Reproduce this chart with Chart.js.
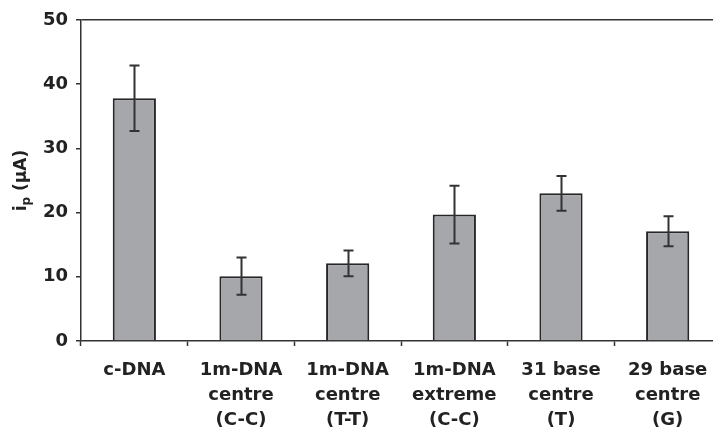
<!DOCTYPE html>
<html>
<head>
<meta charset="utf-8">
<script src="https://cdn.jsdelivr.net/npm/chart.js@4/dist/chart.umd.min.js"></script>
<style>
  html, body { margin: 0; padding: 0; background: #fff; }
  #wrap { width: 713px; height: 430px; overflow: hidden; position: relative; }
  canvas { display: block; }
</style>
</head>
<body>
<div id="wrap"><canvas id="c" width="722" height="430"></canvas></div>
<script>
// Peak current for each DNA target, with standard deviation
const categories = [
  ['c-DNA'],
  ['1m-DNA', 'centre', '(C-C)'],
  ['1m-DNA', 'centre', '(T-T)'],
  ['1m-DNA', 'extreme', '(C-C)'],
  ['31 base', 'centre', '(T)'],
  ['29 base', 'centre', '(G)']
];
const peakCurrent = [37.8, 10.1, 12.1, 19.7, 23.0, 17.1];
const errorSize   = [5.1, 2.9, 2.0, 4.5, 2.7, 2.35];
const yTicks = [0, 10, 20, 30, 40, 50];

const INK = '#222222';
const FONT = '"DejaVu Sans", "Liberation Sans", Arial, sans-serif';

// Vertical error bars with caps
const errorBars = {
  id: 'errorBars',
  afterDatasetsDraw(chart) {
    const ctx = chart.ctx;
    const meta = chart.getDatasetMeta(0);
    const y = chart.scales.y;
    ctx.save();
    ctx.strokeStyle = '#333333';
    ctx.lineWidth = 2;
    meta.data.forEach((bar, i) => {
      const x = Math.round(bar.x) + 0.5;
      const top = y.getPixelForValue(peakCurrent[i] + errorSize[i]);
      const bot = y.getPixelForValue(peakCurrent[i] - errorSize[i]);
      ctx.beginPath();
      ctx.moveTo(x, top); ctx.lineTo(x, bot);
      ctx.moveTo(x - 5, top); ctx.lineTo(x + 5, top);
      ctx.moveTo(x - 5, bot); ctx.lineTo(x + 5, bot);
      ctx.stroke();
    });
    ctx.restore();
  }
};

// Rotated axis title "i_p (µA)" with a real subscript
const yTitle = {
  id: 'yTitle',
  afterDraw(chart) {
    const ctx = chart.ctx;
    const area = chart.chartArea;
    const big = 'bold 17px ' + FONT;
    const small = 'bold 12px ' + FONT;
    ctx.save();
    ctx.translate(26, (area.top + area.bottom) / 2);
    ctx.rotate(-Math.PI / 2);
    ctx.fillStyle = INK;
    ctx.textBaseline = 'alphabetic';
    ctx.font = big;
    const w1 = ctx.measureText('i').width;
    const w3 = ctx.measureText(' (\u00B5A)').width;
    ctx.font = small;
    const w2 = ctx.measureText('p').width;
    let x = -(w1 + w2 + w3) / 2;
    ctx.font = big;
    ctx.fillText('i', x, 0); x += w1;
    ctx.font = small;
    ctx.fillText('p', x, 4); x += w2;
    ctx.font = big;
    ctx.fillText(' (\u00B5A)', x, 0);
    ctx.restore();
  }
};

new Chart(document.getElementById('c'), {
  type: 'bar',
  data: {
    labels: categories,
    datasets: [{
      data: peakCurrent,
      backgroundColor: '#a6a7ab',
      borderColor: '#262626',
      borderWidth: 2,
      barPercentage: 0.405,
      categoryPercentage: 1.0
    }]
  },
  options: {
    responsive: false,
    animation: false,
    devicePixelRatio: 1,
    layout: { padding: { top: 20, right: 1, left: 0, bottom: 0 } },
    plugins: { legend: { display: false }, tooltip: { enabled: false } },
    scales: {
      x: {
        offset: true,
        border: { color: '#333333', width: 1.5 },
        grid: {
          offset: true,
          drawOnChartArea: false,
          drawTicks: true,
          tickLength: 5,
          tickColor: '#333333',
          tickWidth: 1.5
        },
        ticks: {
          color: INK,
          maxRotation: 0,
          autoSkip: false,
          padding: 12,
          font: { family: FONT, size: 18, weight: 'bold', lineHeight: 1.39 }
        },
        afterFit(scale) { scale.height = 89; }
      },
      y: {
        min: 0,
        max: 50,
        afterBuildTicks(scale) { scale.ticks = yTicks.map(v => ({ value: v })); },
        border: { color: '#333333', width: 1.5 },
        grid: {
          color: ctx => (ctx.tick && ctx.tick.value === 50) ? '#333333' : 'rgba(0,0,0,0)',
          lineWidth: 1.5,
          drawTicks: true,
          tickLength: 5,
          tickColor: '#333333',
          tickWidth: 1.5
        },
        ticks: {
          color: INK,
          padding: 8,
          font: { family: FONT, size: 18, weight: 'bold' }
        },
        afterFit(scale) { scale.width = 81; }
      }
    }
  },
  plugins: [errorBars, yTitle]
});
</script>
</body>
</html>
